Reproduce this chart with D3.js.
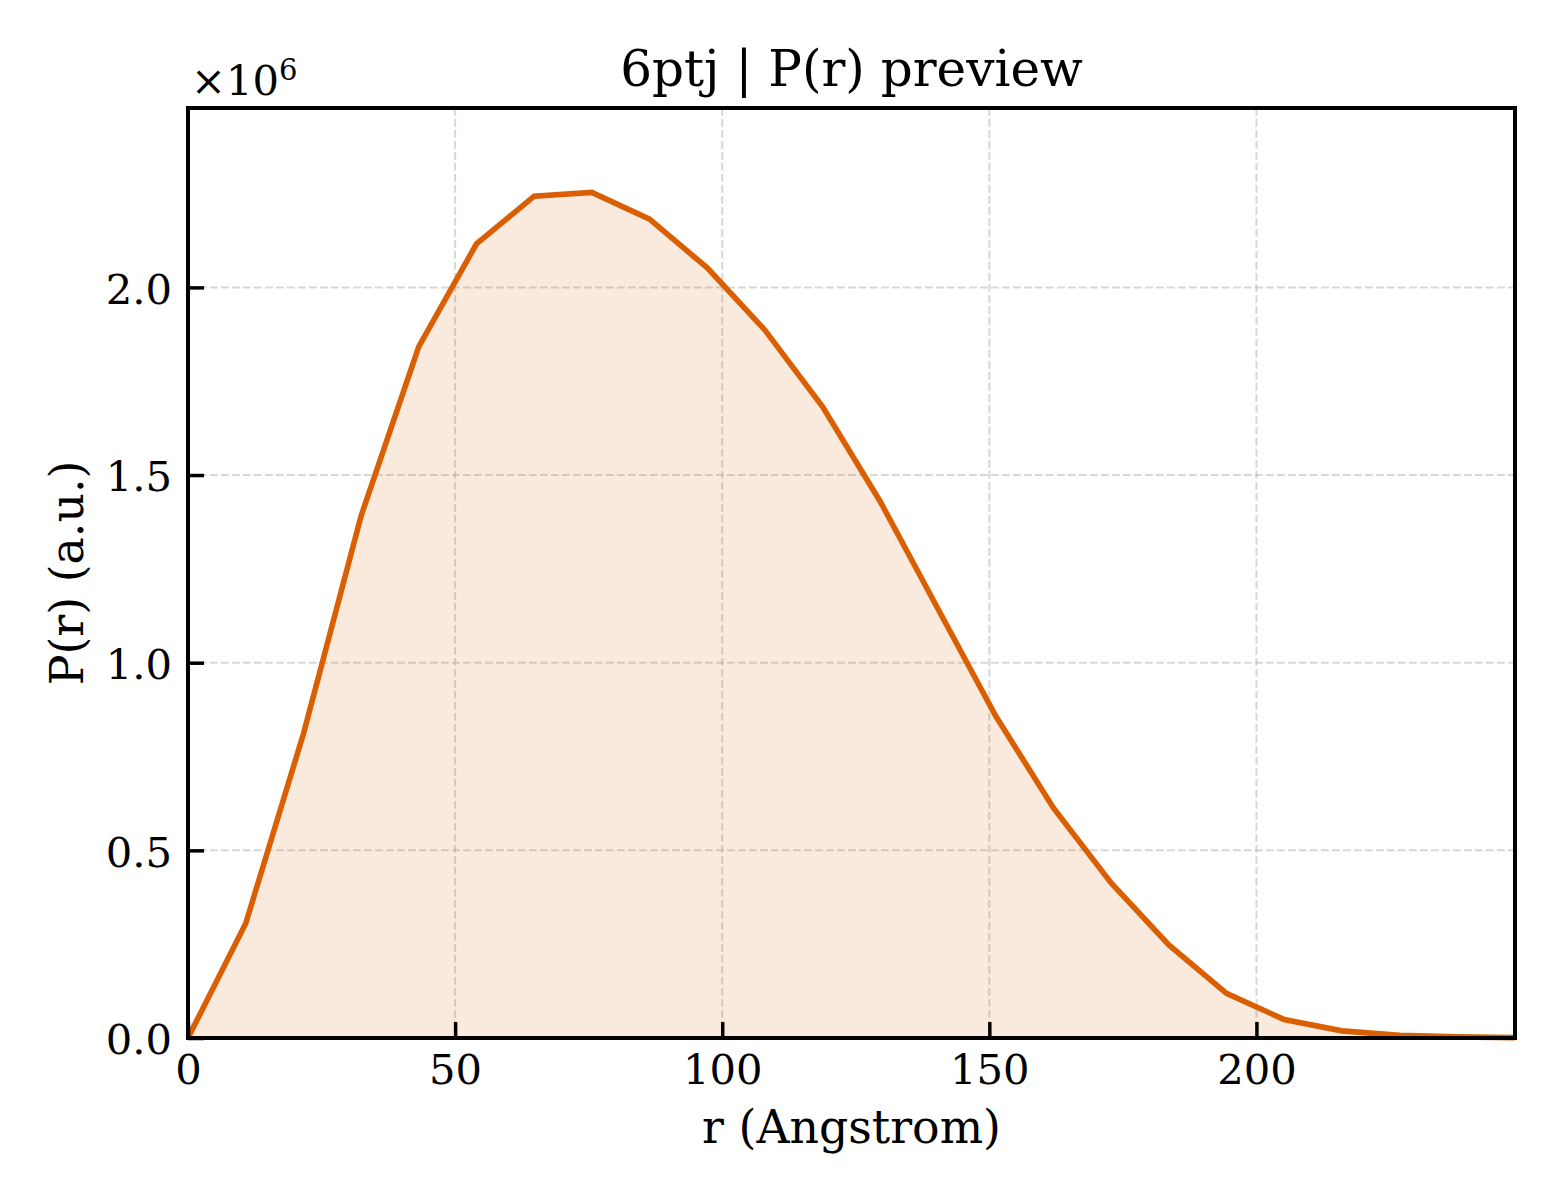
<!DOCTYPE html>
<html>
<head>
<meta charset="utf-8">
<script src="https://cdn.jsdelivr.net/npm/d3@7"></script>
<style>
  html, body { margin: 0; padding: 0; background: #ffffff; }
  svg { display: block; }
  text { font-family: "DejaVu Serif", "Liberation Serif", serif; fill: #000; }
</style>
</head>
<body>
<svg id="chart" width="1560" height="1200"></svg>
<script>
// Data (r in Angstrom, P(r) in units of 1e6)
const rValues = [0, 10.8, 21.6, 32.4, 43.2, 54.0, 64.8, 75.6, 86.4, 97.2, 108.0, 118.8,
                 129.6, 140.4, 151.2, 162.0, 172.8, 183.6, 194.4, 205.2, 216.0, 226.8, 237.6, 248.4];
const pValues = [0, 0.305, 0.81, 1.391, 1.842, 2.116, 2.243, 2.253, 2.182, 2.052, 1.886, 1.682,
                 1.429, 1.143, 0.858, 0.613, 0.413, 0.248, 0.119, 0.049, 0.019, 0.007, 0.003, 0.001];
const xTicks = [0, 50, 100, 150, 200];
const yTicks = [0.0, 0.5, 1.0, 1.5, 2.0];
const titleText = "6ptj | P(r) preview";
const xLabel = "r (Angstrom)";
const yLabel = "P(r) (a.u.)";

const data = rValues.map((r, i) => ({ r: r, p: pValues[i] }));

const mLeft = 188, mRight = 1515, mTop = 108, mBottom = 1038;
const lineColor = "#d95f02";

const svg = d3.select("#chart");

const x = d3.scaleLinear().domain([0, 248.4]).range([mLeft, mRight]);
const y = d3.scaleLinear().domain([0, 2.478]).range([mBottom, mTop]);

// Grid
const grid = svg.append("g");
grid.selectAll("line.vg").data(xTicks.filter(t => t > 0)).enter().append("line")
  .attr("x1", d => x(d)).attr("x2", d => x(d))
  .attr("y1", mTop).attr("y2", mBottom)
  .attr("stroke", "#b0b0b0").attr("stroke-opacity", 0.5)
  .attr("stroke-width", 2).attr("stroke-dasharray", "7.7,3.3");
grid.selectAll("line.hg").data(yTicks.filter(t => t > 0)).enter().append("line")
  .attr("y1", d => y(d)).attr("y2", d => y(d))
  .attr("x1", mLeft).attr("x2", mRight)
  .attr("stroke", "#b0b0b0").attr("stroke-opacity", 0.5)
  .attr("stroke-width", 2).attr("stroke-dasharray", "7.7,3.3");

// Area fill
const area = d3.area().x(d => x(d.r)).y0(y(0)).y1(d => y(d.p));
svg.append("path").datum(data)
  .attr("d", area)
  .attr("fill", lineColor).attr("fill-opacity", 0.13);

// Line
const line = d3.line().x(d => x(d.r)).y(d => y(d.p));
svg.append("path").datum(data)
  .attr("d", line)
  .attr("fill", "none")
  .attr("stroke", lineColor)
  .attr("stroke-width", 5.6)
  .attr("stroke-linejoin", "miter");

// Axes (ticks inward)
const xAxis = d3.axisBottom(x).tickValues(xTicks).tickFormat(d3.format("d"))
  .tickSizeInner(-16).tickSizeOuter(0).tickPadding(16);
const gx = svg.append("g").attr("transform", `translate(0,${mBottom})`).call(xAxis);
gx.select(".domain").remove();
gx.selectAll(".tick line").attr("stroke", "#000").attr("stroke-width", 3.5);
gx.selectAll(".tick text").attr("font-size", 41.7)
  .attr("font-family", "DejaVu Serif").attr("fill", "#000");

const yAxis = d3.axisLeft(y).tickValues(yTicks).tickFormat(d3.format(".1f"))
  .tickSizeInner(-16).tickSizeOuter(0).tickPadding(16);
const gy = svg.append("g").attr("transform", `translate(${mLeft},0)`).call(yAxis);
gy.select(".domain").remove();
gy.selectAll(".tick line").attr("stroke", "#000").attr("stroke-width", 3.5);
gy.selectAll(".tick text").attr("font-size", 41.7)
  .attr("font-family", "DejaVu Serif").attr("fill", "#000").attr("dy", "0.38em");

// Frame
svg.append("rect")
  .attr("x", mLeft).attr("y", mTop)
  .attr("width", mRight - mLeft).attr("height", mBottom - mTop)
  .attr("fill", "none").attr("stroke", "#000").attr("stroke-width", 4);

// Offset text x10^6
const off = svg.append("text").attr("x", 191).attr("y", 95).attr("font-size", 41.7);
off.append("tspan").text("×10");
off.append("tspan").attr("font-size", 29).attr("dy", -15).text("6");

// Title
svg.append("text").attr("x", (mLeft + mRight) / 2).attr("y", 86)
  .attr("text-anchor", "middle").attr("font-size", 50).text(titleText);

// X label
svg.append("text").attr("x", (mLeft + mRight) / 2).attr("y", 1143)
  .attr("text-anchor", "middle").attr("font-size", 45.8).text(xLabel);

// Y label
svg.append("text")
  .attr("transform", `translate(83,${(mTop + mBottom) / 2}) rotate(-90)`)
  .attr("text-anchor", "middle").attr("font-size", 45.8).text(yLabel);
</script>
</body>
</html>
